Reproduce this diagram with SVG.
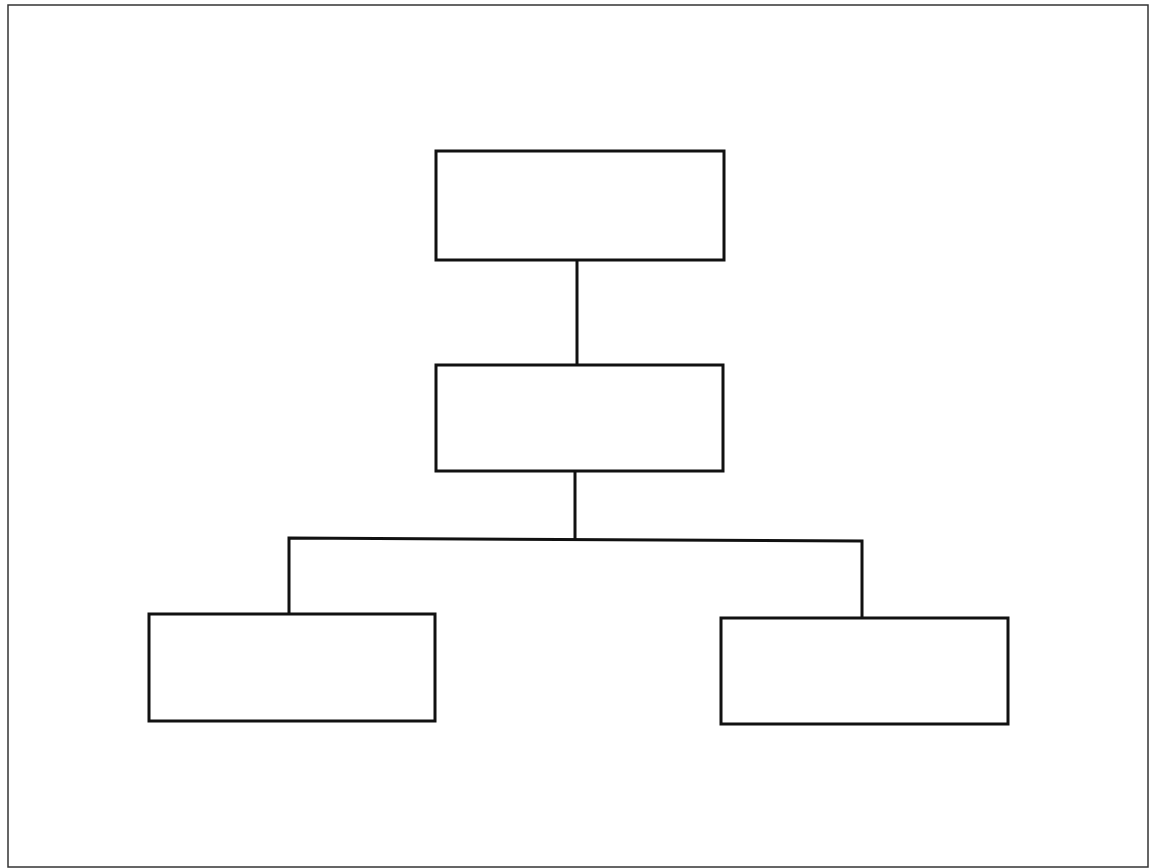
<svg xmlns="http://www.w3.org/2000/svg" width="1151" height="868" viewBox="0 0 1151 868">
<style>
.box{fill:none;stroke:#111;stroke-width:3}
.conn{fill:none;stroke:#111;stroke-width:3;stroke-linejoin:miter}
.frame{fill:none;stroke:#333;stroke-width:1.5}
</style>
<rect x="0" y="0" width="1151" height="868" fill="#fff"/>
<rect class="frame" x="8" y="5" width="1140" height="862"/>
<g id="connectors">
<path class="conn" d="M577 260 V365"/>
<path class="conn" d="M575 471 V539"/>
<path class="conn" d="M289 614 V538 L862 541 V618"/>
</g>
<g id="node-top"><rect class="box" x="436" y="151" width="288" height="109"/></g>
<g id="node-middle"><rect class="box" x="436" y="365" width="287" height="106"/></g>
<g id="node-left"><rect class="box" x="149" y="614" width="286" height="107"/></g>
<g id="node-right"><rect class="box" x="721" y="618" width="287" height="106"/></g>
</svg>
